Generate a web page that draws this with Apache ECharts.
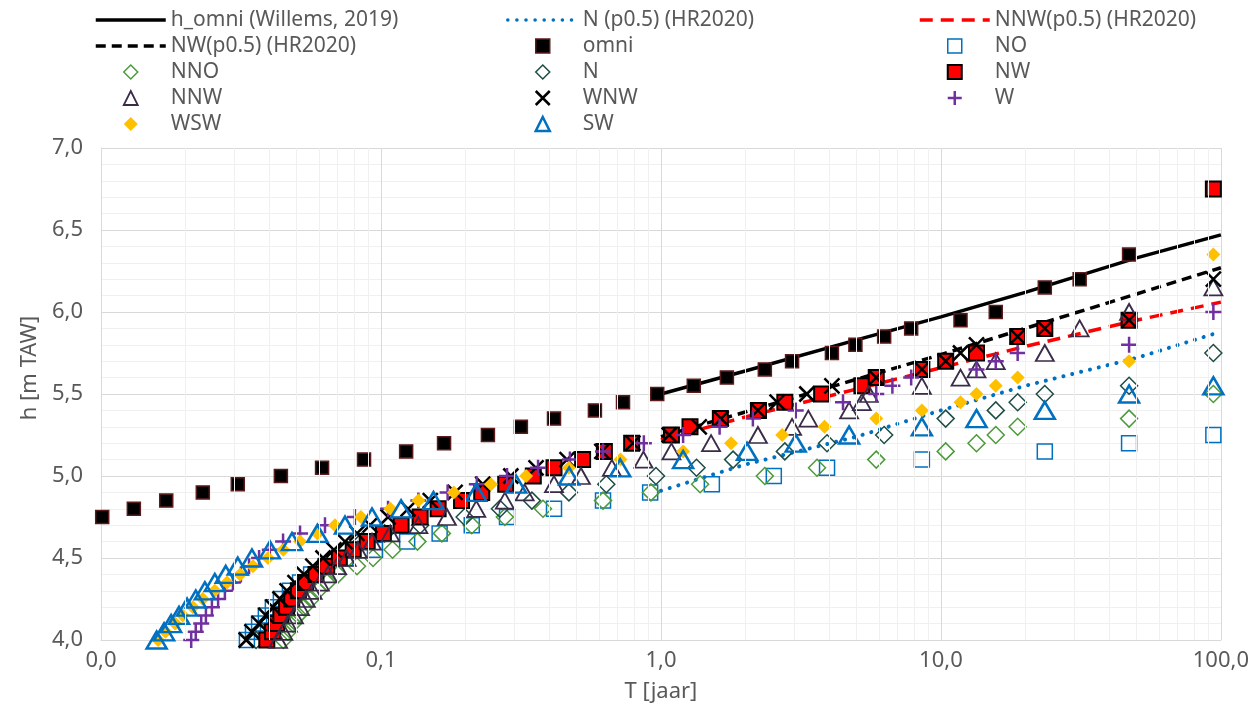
<!DOCTYPE html>
<html>
<head>
<meta charset="utf-8">
<script src="https://cdn.jsdelivr.net/npm/echarts@6/dist/echarts.min.js"></script>
<style>
  html, body { margin: 0; padding: 0; background: #ffffff; }
  #chart { width: 1252px; height: 708px; }
</style>
</head>
<body>
<div id="chart"></div>
<script>
// Return period T [jaar] against water level h [m TAW], per wind direction.

// Fitted curves
const willemsT = [1, 2, 5, 10, 20, 50, 100];
const willemsH = [5.50, 5.64, 5.83, 5.97, 6.12, 6.33, 6.47];
const nP05T = [1, 2, 5, 10, 20, 50, 100];
const nP05H = [4.91, 5.07, 5.24, 5.40, 5.55, 5.72, 5.88];
const nnwP05T = [1, 2, 5, 10, 20, 50, 100];
const nnwP05H = [5.22, 5.36, 5.53, 5.66, 5.79, 5.95, 6.06];
const nwP05T = [1, 2, 5, 10, 20, 50, 100];
const nwP05H = [5.24, 5.39, 5.59, 5.74, 5.90, 6.11, 6.27];

// Empirical points
const omniH = [4.75, 4.80, 4.85, 4.90, 4.95, 5.00, 5.05, 5.10, 5.15, 5.20, 5.25, 5.30, 5.35, 5.40, 5.45, 5.50, 5.55, 5.60, 5.65, 5.70, 5.75, 5.80, 5.85, 5.90, 5.95, 6.00, 6.15, 6.20, 6.35];
const omniT = [0.0101, 0.0131, 0.0171, 0.0231, 0.0308, 0.0439, 0.0616, 0.087, 0.123, 0.168, 0.241, 0.316, 0.415, 0.581, 0.732, 0.97, 1.31, 1.72, 2.35, 2.94, 4.08, 4.95, 6.27, 7.83, 11.75, 15.7, 23.5, 31.3, 47];

const noH = [4.00, 4.05, 4.10, 4.15, 4.20, 4.25, 4.30, 4.35, 4.40, 4.45, 4.50, 4.55, 4.60, 4.65, 4.70, 4.75, 4.80, 4.85, 4.90, 4.95, 5.00, 5.05, 5.10, 5.15, 5.20, 5.25];
const noT = [0.0332, 0.0349, 0.0367, 0.0388, 0.0411, 0.0439, 0.0473, 0.0514, 0.0563, 0.0633, 0.0744, 0.0952, 0.124, 0.162, 0.211, 0.282, 0.415, 0.621, 0.915, 1.52, 2.53, 3.92, 8.55, 23.5, 47, 94];

const nnoH = [4.00, 4.05, 4.10, 4.15, 4.20, 4.25, 4.30, 4.35, 4.40, 4.45, 4.50, 4.55, 4.60, 4.65, 4.70, 4.75, 4.80, 4.85, 4.90, 4.95, 5.00, 5.05, 5.10, 5.15, 5.20, 5.25, 5.30, 5.35, 5.50];
const nnoT = [0.0448, 0.0465, 0.0485, 0.0506, 0.0531, 0.0563, 0.0596, 0.0642, 0.0702, 0.0821, 0.0937, 0.110, 0.135, 0.165, 0.211, 0.277, 0.379, 0.621, 0.921, 1.38, 2.35, 3.61, 5.875, 10.4, 13.4, 15.7, 18.8, 47, 94];

const nH = [4.00, 4.05, 4.10, 4.15, 4.20, 4.25, 4.30, 4.35, 4.40, 4.45, 4.50, 4.55, 4.60, 4.65, 4.70, 4.75, 4.80, 4.85, 4.90, 4.95, 5.00, 5.05, 5.10, 5.15, 5.20, 5.25, 5.35, 5.40, 5.45, 5.50, 5.55, 5.75];
const nT = [0.0358, 0.0376, 0.0395, 0.0415, 0.0439, 0.0465, 0.0497, 0.0531, 0.0574, 0.0621, 0.0679, 0.0754, 0.0852, 0.103, 0.138, 0.199, 0.266, 0.346, 0.469, 0.638, 0.96, 1.34, 1.81, 2.77, 3.92, 6.27, 10.4, 15.7, 18.8, 23.5, 47, 94];

const nwH = [4.00, 4.05, 4.10, 4.15, 4.20, 4.25, 4.30, 4.35, 4.40, 4.45, 4.50, 4.55, 4.60, 4.65, 4.70, 4.75, 4.80, 4.85, 4.90, 4.95, 5.00, 5.05, 5.10, 5.15, 5.20, 5.25, 5.30, 5.35, 5.40, 5.45, 5.50, 5.55, 5.60, 5.65, 5.70, 5.75, 5.85, 5.90, 5.95, 6.75];
const nwT = [0.0391, 0.0410, 0.0424, 0.0439, 0.0460, 0.0480, 0.0507, 0.0538, 0.0586, 0.0640, 0.0710, 0.0796, 0.0893, 0.102, 0.118, 0.138, 0.160, 0.194, 0.229, 0.279, 0.350, 0.415, 0.525, 0.628, 0.786, 1.09, 1.27, 1.63, 2.23, 2.77, 3.75, 5.22, 5.875, 8.55, 10.4, 13.4, 18.8, 23.5, 47, 94];

const nnwH = [4.00, 4.05, 4.10, 4.15, 4.20, 4.25, 4.30, 4.35, 4.40, 4.45, 4.50, 4.55, 4.60, 4.65, 4.70, 4.75, 4.80, 4.85, 4.90, 4.95, 5.00, 5.05, 5.10, 5.15, 5.20, 5.25, 5.30, 5.35, 5.40, 5.45, 5.50, 5.55, 5.60, 5.65, 5.70, 5.75, 5.90, 6.00, 6.15];
const nnwT = [0.0429, 0.0448, 0.0465, 0.0489, 0.0514, 0.0539, 0.0570, 0.0605, 0.0647, 0.0697, 0.0754, 0.0827, 0.0929, 0.108, 0.136, 0.172, 0.219, 0.277, 0.326, 0.415, 0.518, 0.668, 0.866, 1.09, 1.51, 2.22, 2.94, 3.36, 4.70, 5.22, 5.53, 8.55, 11.75, 13.4, 15.7, 23.5, 31.3, 47, 94];

const wnwH = [4.00, 4.05, 4.10, 4.15, 4.20, 4.25, 4.30, 4.35, 4.40, 4.45, 4.50, 4.55, 4.60, 4.65, 4.70, 4.75, 4.80, 4.85, 4.90, 4.95, 5.00, 5.05, 5.10, 5.15, 5.20, 5.25, 5.30, 5.35, 5.40, 5.45, 5.50, 5.55, 5.60, 5.65, 5.70, 5.75, 5.80, 5.85, 5.90, 5.95, 6.20];
const wnwT = [0.0330, 0.0346, 0.0367, 0.0388, 0.0411, 0.0436, 0.0462, 0.0493, 0.0531, 0.0571, 0.0621, 0.0679, 0.0744, 0.0821, 0.0914, 0.106, 0.125, 0.150, 0.184, 0.231, 0.291, 0.358, 0.462, 0.615, 0.794, 1.07, 1.37, 1.64, 2.22, 2.60, 3.32, 4.08, 5.875, 8.55, 10.4, 11.75, 13.4, 18.8, 23.5, 47, 94];

const wH = [4.00, 4.05, 4.10, 4.15, 4.20, 4.25, 4.30, 4.35, 4.40, 4.45, 4.50, 4.55, 4.60, 4.65, 4.70, 4.75, 4.80, 4.85, 4.90, 4.95, 5.00, 5.05, 5.10, 5.15, 5.20, 5.25, 5.30, 5.35, 5.40, 5.45, 5.50, 5.55, 5.60, 5.65, 5.70, 5.75, 5.80, 6.00];
const wT = [0.0210, 0.0218, 0.0228, 0.0237, 0.0249, 0.0262, 0.0277, 0.0296, 0.0316, 0.0338, 0.0367, 0.0401, 0.0447, 0.0514, 0.0631, 0.0807, 0.106, 0.136, 0.173, 0.220, 0.282, 0.364, 0.473, 0.621, 0.869, 1.20, 1.62, 2.13, 3.03, 4.47, 5.875, 6.71, 7.83, 13.4, 15.7, 18.8, 47, 94];

const wswH = [4.00, 4.05, 4.10, 4.15, 4.20, 4.25, 4.30, 4.35, 4.40, 4.45, 4.50, 4.55, 4.60, 4.65, 4.70, 4.75, 4.80, 4.85, 4.90, 4.95, 5.00, 5.05, 5.10, 5.15, 5.20, 5.25, 5.30, 5.35, 5.40, 5.45, 5.50, 5.55, 5.60, 5.70, 6.35];
const wswT = [0.0160, 0.0170, 0.0184, 0.0196, 0.0213, 0.0231, 0.0255, 0.0282, 0.0314, 0.0349, 0.0395, 0.0448, 0.0514, 0.0593, 0.0685, 0.0848, 0.108, 0.136, 0.182, 0.247, 0.330, 0.469, 0.717, 1.20, 1.78, 2.71, 3.84, 5.875, 8.55, 11.75, 13.4, 15.7, 18.8, 47, 94];

const swH = [4.00, 4.05, 4.10, 4.15, 4.20, 4.25, 4.30, 4.35, 4.40, 4.45, 4.50, 4.55, 4.60, 4.65, 4.70, 4.75, 4.80, 4.85, 4.90, 4.95, 5.00, 5.05, 5.10, 5.15, 5.20, 5.25, 5.30, 5.35, 5.40, 5.50, 5.55];
const swT = [0.0158, 0.0168, 0.0178, 0.0190, 0.0203, 0.0218, 0.0235, 0.0255, 0.0279, 0.0308, 0.0346, 0.0401, 0.0481, 0.0593, 0.0744, 0.0929, 0.118, 0.154, 0.219, 0.304, 0.47, 0.715, 1.20, 2.03, 3.03, 4.70, 8.55, 13.4, 23.5, 47, 94];

// Axis ranges and minor grid multiples for the logarithmic T axis
const xRange = [0.01, 100];
const yRange = [4.0, 7.0];
const decades = [0.01, 0.1, 1, 10];
const minorSteps = [2, 3, 4, 5, 6, 7, 8, 9];

const FONT = '"Noto Sans", "DejaVu Sans", sans-serif';
const TEXT = '#595959';

const SYM = {
  square: 'path://M0,0H10V10H0Z',
  diamond: 'path://M5,0L10,5L5,10L0,5Z',
  triangle: 'path://M5,0L10,10L0,10Z',
  cross: 'path://M0,0L10,10M10,0L0,10',
  plus: 'path://M5,0V10M0,5H10'
};

function pairs(T, H) { return T.map((t, i) => [t, H[i]]); }
const comma = (v) => Number(v).toFixed(1).replace('.', ',');

function curve(name, T, H, lineStyle) {
  return {
    name, type: 'line', data: pairs(T, H), symbol: 'none', smooth: false,
    lineStyle, itemStyle: { color: lineStyle.color }, z: 2, silent: true
  };
}
function dots(name, T, H, symbol, size, itemStyle) {
  return {
    name, type: 'scatter', data: pairs(T, H), symbol: SYM[symbol],
    symbolSize: size, itemStyle: Object.assign({ opacity: 1 }, itemStyle), z: 3, silent: true
  };
}

const minorLines = [];
decades.forEach(d => minorSteps.forEach(m => minorLines.push({ xAxis: +(d * m).toPrecision(3) })));

// Legend entries for the fitted curves show only their line, no marker
const lineEntry = (name) => ({
  name, itemStyle: { color: 'transparent', borderColor: 'transparent', borderWidth: 0 }
});

const legendText = { color: TEXT, fontSize: 21, fontFamily: FONT, lineHeight: 22 };
function legendCol(left, names) {
  return {
    left, top: 9, padding: 0, orient: 'vertical', itemWidth: 70, itemHeight: 14, itemGap: 4,
    selectedMode: false, data: names, textStyle: legendText,
    lineStyle: { width: 3.5 }, itemStyle: { borderWidth: 'inherit' }
  };
}

const axisFont = { color: TEXT, fontSize: 22, fontFamily: FONT };

const chart = echarts.init(document.getElementById('chart'), null, { renderer: 'canvas' });
chart.setOption({
  animation: false,
  backgroundColor: '#ffffff',
  grid: { left: 101, right: 31, top: 148, bottom: 68, containLabel: false },
  legend: [
    legendCol(94, [lineEntry('h_omni (Willems, 2019)'), lineEntry('NW(p0.5) (HR2020)'), 'NNO', 'NNW', 'WSW']),
    legendCol(506, [lineEntry('N (p0.5) (HR2020)'), 'omni', 'N', 'WNW', 'SW']),
    legendCol(918, [lineEntry('NNW(p0.5) (HR2020)'), 'NO', 'NW', 'W'])
  ],
  xAxis: {
    type: 'log', logBase: 10, min: xRange[0], max: xRange[1],
    name: 'T [jaar]', nameLocation: 'middle', nameGap: 41,
    nameTextStyle: axisFont,
    axisLine: { show: true, lineStyle: { color: '#d9d9d9', width: 1 } },
    axisTick: { show: false },
    axisLabel: Object.assign({ margin: 10, formatter: comma }, axisFont),
    splitLine: { show: true, lineStyle: { color: '#d9d9d9', width: 1 } }
  },
  yAxis: {
    type: 'value', min: yRange[0], max: yRange[1], interval: 0.5,
    axisLine: { show: true, lineStyle: { color: '#d9d9d9', width: 1 } },
    axisTick: { show: false },
    axisLabel: Object.assign({ margin: 18, formatter: comma }, axisFont),
    splitLine: { show: true, lineStyle: { color: '#d9d9d9', width: 1 } },
    minorTick: { show: false, splitNumber: 5 },
    minorSplitLine: { show: true, lineStyle: { color: '#f0f0f0', width: 1 } }
  },
  graphic: [{
    type: 'text', x: 30, y: 368, rotation: Math.PI / 2,
    style: { text: 'h [m TAW]', fill: TEXT, font: '22px ' + FONT, align: 'center', verticalAlign: 'middle' }
  }],
  series: [
    {
      name: 'minor grid', type: 'line', data: [], symbol: 'none', z: 0, silent: true,
      markLine: {
        silent: true, symbol: ['none', 'none'], label: { show: false },
        lineStyle: { color: '#f0f0f0', width: 1, type: 'solid' },
        emphasis: { disabled: true }, data: minorLines
      }
    },
    curve('h_omni (Willems, 2019)', willemsT, willemsH, { color: '#000000', width: 3.5, type: 'solid' }),
    curve('N (p0.5) (HR2020)', nP05T, nP05H, { color: '#0070C0', width: 4, type: [0.1, 9], cap: 'round' }),
    curve('NNW(p0.5) (HR2020)', nnwP05T, nnwP05H, { color: '#FF0000', width: 3.5, type: [13, 8] }),
    curve('NW(p0.5) (HR2020)', nwP05T, nwP05H, { color: '#000000', width: 3.5, type: [10, 6] }),
    dots('omni', omniT, omniH, 'square', 13, { color: '#000000', borderColor: '#5C1A1A', borderWidth: 1.5 }),
    dots('NO', noT, noH, 'square', 15, { color: 'transparent', borderColor: '#0070C0', borderWidth: 1.5 }),
    dots('NNO', nnoT, nnoH, 'diamond', 17, { color: 'transparent', borderColor: '#4C9A3A', borderWidth: 1.5 }),
    dots('N', nT, nH, 'diamond', 17, { color: 'transparent', borderColor: '#1E4D45', borderWidth: 1.5 }),
    dots('NW', nwT, nwH, 'square', 15, { color: '#FF0000', borderColor: '#000000', borderWidth: 2 }),
    dots('NNW', nnwT, nnwH, 'triangle', [18, 16], { color: 'transparent', borderColor: '#3A2C48', borderWidth: 1.8 }),
    dots('WNW', wnwT, wnwH, 'cross', 15, { color: 'transparent', borderColor: '#000000', borderWidth: 2.5 }),
    dots('W', wT, wH, 'plus', 16, { color: 'transparent', borderColor: '#7030A0', borderWidth: 2.5 }),
    dots('WSW', wswT, wswH, 'diamond', 14, { color: '#FFC000', borderColor: '#FFC000', borderWidth: 0 }),
    dots('SW', swT, swH, 'triangle', [20, 17], { color: 'transparent', borderColor: '#0070C0', borderWidth: 2.5 })
  ]
});
</script>
</body>
</html>
